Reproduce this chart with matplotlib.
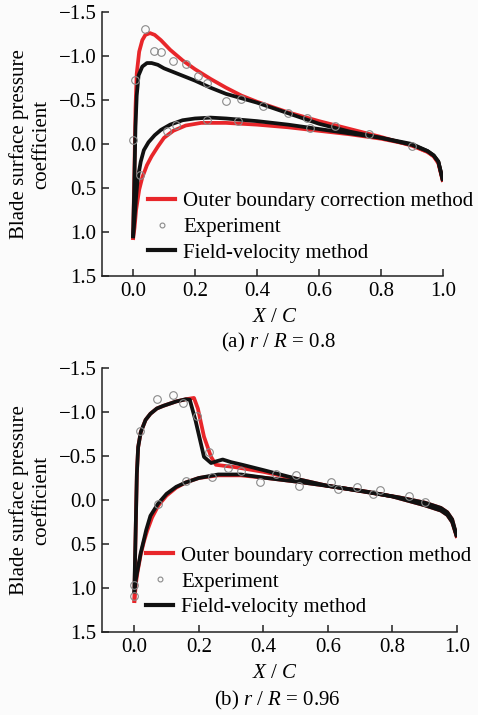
import matplotlib
matplotlib.use("Agg")
import matplotlib.pyplot as plt
from matplotlib.lines import Line2D

plt.rcParams['font.family'] = ['Liberation Serif', 'DejaVu Serif']
plt.rcParams['mathtext.fontset'] = 'custom'
plt.rcParams['mathtext.rm'] = 'Liberation Serif'
plt.rcParams['mathtext.it'] = 'Liberation Serif:italic'
plt.rcParams['font.size'] = 15

RED = '#e8262a'
BLACK = '#111111'
FS = 15

# ---- (a) r/R = 0.8 ----
a_red_up_x = [0.0, 0.004, 0.008, 0.012, 0.02, 0.03, 0.04, 0.055, 0.07, 0.09, 0.12, 0.16, 0.2, 0.25,
              0.3, 0.35, 0.4, 0.5, 0.6, 0.7, 0.8, 0.9, 0.95, 0.97, 0.985, 1.0]
a_red_up_y = [1.09, 0.4, -0.4, -0.8, -1.05, -1.18, -1.24, -1.26, -1.24, -1.18, -1.07, -0.95, -0.85, -0.74,
              -0.64, -0.55, -0.48, -0.36, -0.26, -0.17, -0.08, 0.02, 0.09, 0.14, 0.22, 0.43]
a_red_lo_x = [0.0, 0.005, 0.01, 0.02, 0.03, 0.045, 0.06, 0.08, 0.1, 0.13, 0.17, 0.22, 0.3, 0.4,
              0.5, 0.6, 0.7, 0.8, 0.9, 0.95, 0.97, 0.985, 1.0]
a_red_lo_y = [1.09, 0.95, 0.75, 0.52, 0.38, 0.24, 0.14, 0.03, -0.07, -0.15, -0.21, -0.24, -0.24, -0.22,
              -0.19, -0.15, -0.11, -0.06, 0.01, 0.09, 0.14, 0.21, 0.43]
a_blk_up_x = [0.0, 0.004, 0.008, 0.012, 0.018, 0.03, 0.045, 0.06, 0.08, 0.1, 0.15, 0.2, 0.25, 0.3,
              0.4, 0.5, 0.6, 0.7, 0.8, 0.9, 0.95, 0.97, 0.985, 1.0]
a_blk_up_y = [1.07, 0.5, -0.2, -0.55, -0.78, -0.88, -0.92, -0.92, -0.9, -0.86, -0.79, -0.72, -0.64, -0.57,
              -0.47, -0.35, -0.23, -0.14, -0.07, 0.01, 0.08, 0.13, 0.2, 0.42]
a_blk_lo_x = [0.0, 0.005, 0.01, 0.015, 0.025, 0.035, 0.05, 0.07, 0.09, 0.12, 0.16, 0.2, 0.25, 0.3,
              0.4, 0.5, 0.6, 0.7, 0.8, 0.9, 0.95, 0.97, 0.985, 1.0]
a_blk_lo_y = [1.07, 0.85, 0.6, 0.4, 0.2, 0.07, -0.02, -0.1, -0.16, -0.22, -0.27, -0.29, -0.3, -0.29,
              -0.26, -0.22, -0.17, -0.12, -0.07, 0.0, 0.08, 0.13, 0.2, 0.42]
a_exp_x = [0.0, 0.006, 0.021, 0.038, 0.068, 0.089, 0.11, 0.129, 0.14, 0.17, 0.21, 0.24, 0.24,
           0.30, 0.34, 0.35, 0.42, 0.50, 0.56, 0.57, 0.65, 0.76, 0.90]
a_exp_y = [-0.04, -0.73, 0.35, -1.31, -1.06, -1.05, -0.15, -0.94, -0.22, -0.91, -0.77, -0.69, -0.27,
           -0.49, -0.26, -0.51, -0.43, -0.35, -0.29, -0.18, -0.2, -0.11, 0.02]

# ---- (b) r/R = 0.96 ----
b_red_up_x = [0.0, 0.004, 0.008, 0.012, 0.02, 0.035, 0.05, 0.07, 0.09, 0.13, 0.16, 0.185, 0.197, 0.216,
              0.238, 0.253, 0.275, 0.31, 0.4, 0.515, 0.6, 0.72, 0.8, 0.9, 0.95, 0.97, 0.985, 1.0]
b_red_up_y = [1.17, 0.4, -0.3, -0.6, -0.77, -0.91, -0.98, -1.04, -1.07, -1.12, -1.145, -1.16, -1.04, -0.72,
              -0.49, -0.40, -0.39, -0.375, -0.32, -0.23, -0.16, -0.095, -0.04, 0.06, 0.12, 0.17, 0.25, 0.43]
b_red_lo_x = [0.0, 0.005, 0.01, 0.02, 0.03, 0.04, 0.055, 0.075, 0.1, 0.13, 0.16, 0.2, 0.26, 0.33,
              0.41, 0.5, 0.62, 0.72, 0.82, 0.9, 0.95, 0.97, 0.985, 1.0]
b_red_lo_y = [1.17, 0.95, 0.82, 0.62, 0.47, 0.35, 0.2, 0.06, -0.05, -0.14, -0.2, -0.25, -0.28, -0.28,
              -0.25, -0.21, -0.15, -0.09, -0.03, 0.03, 0.09, 0.14, 0.22, 0.43]
b_blk_up_x = [0.0, 0.004, 0.008, 0.012, 0.02, 0.035, 0.05, 0.07, 0.09, 0.13, 0.16, 0.172, 0.19, 0.216,
              0.238, 0.255, 0.274, 0.3, 0.335, 0.4, 0.515, 0.6, 0.72, 0.8, 0.9, 0.95, 0.97, 0.985, 1.0]
b_blk_up_y = [1.06, 0.4, -0.3, -0.6, -0.77, -0.91, -0.98, -1.04, -1.07, -1.12, -1.145, -1.14, -0.9, -0.49,
              -0.42, -0.44, -0.46, -0.43, -0.40, -0.34, -0.23, -0.16, -0.095, -0.04, 0.06, 0.12, 0.17, 0.25, 0.42]
b_blk_lo_x = [0.0, 0.005, 0.01, 0.02, 0.03, 0.037, 0.05, 0.074, 0.1, 0.13, 0.16, 0.2, 0.26, 0.33,
              0.41, 0.5, 0.62, 0.72, 0.82, 0.9, 0.95, 0.97, 0.985, 1.0]
b_blk_lo_y = [1.06, 0.9, 0.8, 0.6, 0.45, 0.34, 0.18, 0.04, -0.07, -0.15, -0.2, -0.25, -0.29, -0.29,
              -0.25, -0.21, -0.15, -0.09, -0.03, 0.03, 0.09, 0.14, 0.22, 0.42]
b_exp_x = [0.0, 0.0, 0.019, 0.071, 0.073, 0.12, 0.15, 0.16, 0.195, 0.23, 0.24, 0.29, 0.33, 0.39,
           0.44, 0.50, 0.51, 0.61, 0.63, 0.69, 0.74, 0.76, 0.85, 0.90]
b_exp_y = [0.97, 1.09, -0.78, -1.15, 0.05, -1.19, -1.10, -0.22, -0.96, -0.55, -0.26, -0.36, -0.33, -0.21,
           -0.30, -0.28, -0.16, -0.2, -0.13, -0.15, -0.07, -0.11, -0.04, 0.02]

y_ticks = [-1.5, -1.0, -0.5, 0.0, 0.5, 1.0, 1.5]
x_ticks = [0.0, 0.2, 0.4, 0.6, 0.8, 1.0]
legend_labels = ['Outer boundary correction method', 'Experiment', 'Field-velocity method']

W, H = 478, 715
fig = plt.figure(figsize=(W / 100, H / 100), dpi=100, facecolor='#fbfbfb')


def px_axes(left, top, right, bottom):
    return fig.add_axes([left / W, 1 - bottom / H, (right - left) / W, (bottom - top) / H])


def draw_panel(ax, curves, exp_x, exp_y, leg_anchor):
    for (x, y, c) in curves:
        ax.plot(x, y, color=c, lw=2.7, solid_joinstyle='round', solid_capstyle='butt')
    ax.plot(exp_x, exp_y, ls='none', marker='o', ms=5.5, mfc='none', mec='#8a8a8a', mew=0.8)
    ax.set_xlim(-0.1, 1.0)
    ax.set_ylim(1.5, -1.5)
    ax.set_xticks(x_ticks)
    ax.set_xticklabels([f'{v:.1f}' for v in x_ticks])
    ax.set_yticks(y_ticks)
    ax.set_yticklabels([f'{v:.1f}'.replace('-', '\u2212') for v in y_ticks])
    ax.set_facecolor('none')
    for s in ('top', 'right'):
        ax.spines[s].set_visible(False)
    for s in ('left', 'bottom'):
        ax.spines[s].set_linewidth(1.1)
        ax.spines[s].set_color('#222222')
    ax.tick_params(direction='in', length=5, width=1.1, color='#222222', labelsize=FS, pad=4)
    handles = [
        Line2D([], [], color=RED, lw=3),
        Line2D([], [], ls='none', marker='o', ms=3.5, mfc='none', mec='#8a8a8a', mew=0.8),
        Line2D([], [], color=BLACK, lw=3),
    ]
    ax.legend(handles, legend_labels, loc='upper left', bbox_to_anchor=leg_anchor, frameon=False,
              fontsize=FS, handlelength=1.3, handletextpad=0.4, labelspacing=0.3,
              borderpad=0, borderaxespad=0)


ax_a = px_axes(102, 12, 443, 276)
draw_panel(ax_a, [(a_red_lo_x, a_red_lo_y, RED), (a_red_up_x, a_red_up_y, RED),
                  (a_blk_lo_x, a_blk_lo_y, BLACK), (a_blk_up_x, a_blk_up_y, BLACK)],
           a_exp_x, a_exp_y, (0.135, 0.32))

ax_b = px_axes(102, 368, 457, 632)
draw_panel(ax_b, [(b_red_lo_x, b_red_lo_y, RED), (b_red_up_x, b_red_up_y, RED),
                  (b_blk_lo_x, b_blk_lo_y, BLACK), (b_blk_up_x, b_blk_up_y, BLACK)],
           b_exp_x, b_exp_y, (0.124, 0.325))

ylabel = 'Blade surface pressure\ncoefficient'
for yc in (144, 500):
    fig.text(30 / W, 1 - yc / H, ylabel, rotation=90, ha='center', va='center',
             multialignment='center', fontsize=FS, linespacing=1.2)

fig.text(275 / W, 1 - 317 / H, r'$X$ / $C$', ha='center', va='center', fontsize=FS)
fig.text(278 / W, 1 - 342 / H, r'(a) $r$ / $R$ = 0.8', ha='center', va='center', fontsize=FS)
fig.text(275 / W, 1 - 673 / H, r'$X$ / $C$', ha='center', va='center', fontsize=FS)
fig.text(277 / W, 1 - 700 / H, r'(b) $r$ / $R$ = 0.96', ha='center', va='center', fontsize=FS)

fig.savefig('out.png', dpi=100, facecolor=fig.get_facecolor())
